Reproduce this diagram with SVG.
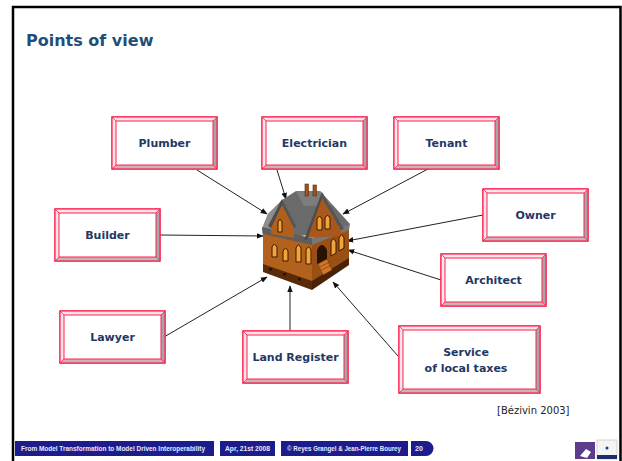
<svg xmlns="http://www.w3.org/2000/svg" xmlns:xlink="http://www.w3.org/1999/xlink" width="622" height="461" viewBox="0 0 622 461">
  <style>
    .frame { stroke: #000; stroke-width: 2.5; fill: none; }
    .title { font-family: "DejaVu Sans", Verdana, sans-serif; font-weight: bold; font-size: 16px; fill: #1f4e79; }
    .lbl { font-family: "DejaVu Sans", "Comic Sans MS", sans-serif; font-weight: bold; font-size: 11px; fill: #1f3864; text-anchor: middle; }
    .cite { font-family: "DejaVu Sans", Verdana, sans-serif; font-size: 10px; fill: #222; }
    .bar { fill: #1c1c8c; }
    .foot { font-family: "Liberation Sans", Arial, sans-serif; font-weight: bold; font-size: 7px; fill: #e8e8ff; }
    .edge { stroke: #222; stroke-width: 1; fill: none; marker-end: url(#arr); }
    .bv-out { fill: #fff; stroke: #ff1f4f; stroke-width: 1.2; }
    .bv-in { fill: #fff; stroke: #ff1f4f; stroke-width: 1; }
    .bv-tl { fill: #ffe4ea; }
    .bv-r { fill: #a6a6a6; }
    .bv-b { fill: #c9b3b7; }
    .bv-c { stroke: #ff1f4f; stroke-width: 0.8; }
    .win { fill: #f2a43a; stroke: #3a1800; stroke-width: 1; }
  </style>
  <defs>
    <marker id="arr" viewBox="0 0 10 10" refX="9" refY="5" markerWidth="7" markerHeight="7" orient="auto-start-reverse" markerUnits="userSpaceOnUse">
      <path d="M0,1 L10,5 L0,9 z" fill="#111"/>
    </marker>
    <!-- bevelled label plate, 105 x 52 -->
    <g id="plate">
      <rect class="bv-out" x="0" y="0" width="105" height="52"/>
      <polygon class="bv-tl" points="0,0 105,0 101,4 4,4"/>
      <polygon class="bv-tl" points="0,0 4,4 4,48 0,52"/>
      <polygon class="bv-r" points="105,0 105,52 101,48 101,4"/>
      <polygon class="bv-b" points="0,52 105,52 101,48 4,48"/>
      <rect x="0" y="0" width="105" height="52" fill="none" stroke="#ff1f4f" stroke-width="1.2"/>
      <rect class="bv-in" x="4" y="4" width="97" height="44"/>
      <line class="bv-c" x1="0" y1="0" x2="4" y2="4"/>
      <line class="bv-c" x1="105" y1="0" x2="101" y2="4"/>
      <line class="bv-c" x1="0" y1="52" x2="4" y2="48"/>
      <line class="bv-c" x1="105" y1="52" x2="101" y2="48"/>
    </g>
  </defs>

  <rect width="622" height="461" fill="#fff"/>
  <!-- slide frame -->
  <path class="frame" d="M13,461 V7 H620.5 V461"/>

  <text class="title" x="26" y="46">Points of view</text>

  <!-- connectors -->
  <g id="connectors">
    <line class="edge" x1="197" y1="170" x2="267" y2="214"/>
    <line class="edge" x1="277" y1="170" x2="286" y2="199"/>
    <line class="edge" x1="428" y1="169" x2="343" y2="214"/>
    <line class="edge" x1="483" y1="215" x2="347" y2="241"/>
    <line class="edge" x1="441" y1="280" x2="348" y2="250"/>
    <line class="edge" x1="160" y1="235" x2="263" y2="236"/>
    <line class="edge" x1="164" y1="337" x2="267" y2="277"/>
    <line class="edge" x1="290" y1="332" x2="290" y2="286"/>
    <line class="edge" x1="398" y1="356" x2="333" y2="282"/>
  </g>

  <!-- house -->
  <g id="house">
    <!-- main roof -->
    <polygon points="262,229 268,214 282,200 296,191 320,191 350,224 346,230 300,236 263,236" fill="#6b6b6b"/>
    <polygon points="262,229 268,214 280,203 284,214 270,232" fill="#8e8e8e"/>
    <polygon points="296,191 320,191 332,205 304,206" fill="#7d7d7d"/>
    <!-- chimneys -->
    <rect x="305" y="184" width="3.5" height="12" fill="#a4521a" stroke="#5a2a08" stroke-width="0.6"/>
    <rect x="313" y="185" width="3.5" height="11" fill="#a4521a" stroke="#5a2a08" stroke-width="0.6"/>
    <!-- walls -->
    <polygon points="263,233 312,244 312,288 263,270" fill="#b2621c"/>
    <polygon points="312,244 349,229 349,264 312,288" fill="#9a4f14"/>
    <!-- lower roof band -->
    <polygon points="262,227 312,238 312,245 263,234" fill="#5e5e5e"/>
    <polygon points="312,238 350,224 349,230 312,245" fill="#777"/>
    <!-- base -->
    <polygon points="263,264 312,281 312,290 263,272" fill="#5a2b08"/>
    <polygon points="312,281 349,258 349,265 312,290" fill="#4a2306"/>
    <rect x="269" y="268" width="3" height="2.5" fill="#2a1200"/>
    <rect x="283" y="273" width="3" height="2.5" fill="#2a1200"/>
    <rect x="298" y="278" width="3" height="2.5" fill="#2a1200"/>
    <!-- left dormer gable -->
    <polygon points="271,224 282,201 294,226 294,238 271,234" fill="#b0601c"/>
    <polygon points="282,199 268,226 271,228 282,205" fill="#4c4c4c"/>
    <polygon points="282,199 296,226 294,228 282,205" fill="#555"/>
    <path class="win" d="M278,232 V222 Q280,217 282,222 V232 Z"/>
    <!-- right gable -->
    <polygon points="306,238 322,194 341,228 341,236" fill="#a8581a"/>
    <polygon points="322,192 304,240 307,240 322,198" fill="#4c4c4c"/>
    <polygon points="322,192 344,229 341,230 322,198" fill="#555"/>
    <path class="win" d="M317,230 V219 Q319.5,214 322,219 V230 Z"/>
    <path class="win" d="M325,229 V218 Q327.5,213 330,218 V229 Z"/>
    <!-- ground floor windows -->
    <path class="win" d="M272,257 V247 Q274.5,242 277,247 V257 Z"/>
    <path class="win" d="M283,261 V251 Q285.5,246 288,251 V261 Z"/>
    <path class="win" d="M296,262 V248 Q298.5,242 301,248 V262 Z"/>
    <path class="win" d="M306,264 V250 Q308.5,244 311,250 V264 Z"/>
    <path d="M317,264 V250 Q322,240 327,250 V260 Z" fill="#2a1200"/>
    <path class="win" d="M331,256 V242 Q333.5,236 336,242 V253 Z"/>
    <path class="win" d="M339,251 V238 Q341.5,232 344,238 V248 Z"/>
    <!-- steps -->
    <polygon points="318,264 327,259 332,270 323,275" fill="#d07828" stroke="#6a3008" stroke-width="0.5"/>
    <line x1="320" y1="267" x2="329" y2="262" stroke="#6a3008" stroke-width="0.6"/>
    <line x1="321.5" y1="270" x2="330.5" y2="265.5" stroke="#6a3008" stroke-width="0.6"/>
  </g>

  <!-- viewpoint plates -->
  <g id="plumber"><use xlink:href="#plate" x="112" y="117"/><text class="lbl" x="164.5" y="147">Plumber</text></g>
  <g id="electrician"><use xlink:href="#plate" x="262" y="117"/><text class="lbl" x="314.5" y="147">Electrician</text></g>
  <g id="tenant"><use xlink:href="#plate" x="394" y="117"/><text class="lbl" x="446.5" y="147">Tenant</text></g>
  <g id="owner"><use xlink:href="#plate" x="483" y="189"/><text class="lbl" x="535.5" y="219">Owner</text></g>
  <g id="builder"><use xlink:href="#plate" x="55" y="209"/><text class="lbl" x="107.5" y="239">Builder</text></g>
  <g id="architect"><use xlink:href="#plate" x="441" y="254"/><text class="lbl" x="493.5" y="284">Architect</text></g>
  <g id="lawyer"><use xlink:href="#plate" x="60" y="311"/><text class="lbl" x="112.5" y="341">Lawyer</text></g>
  <g id="land-register"><use xlink:href="#plate" x="243" y="331"/><text class="lbl" x="295.5" y="361">Land Register</text></g>
  <g id="local-taxes">
    <rect class="bv-out" x="399" y="326" width="141" height="67"/>
    <polygon class="bv-tl" points="399,326 540,326 536,330 403,330"/>
    <polygon class="bv-tl" points="399,326 403,330 403,389 399,393"/>
    <polygon class="bv-r" points="540,326 540,393 536,389 536,330"/>
    <polygon class="bv-b" points="399,393 540,393 536,389 403,389"/>
    <rect x="399" y="326" width="141" height="67" fill="none" stroke="#ff1f4f" stroke-width="1.2"/>
    <rect class="bv-in" x="403" y="330" width="133" height="59"/>
    <line class="bv-c" x1="399" y1="326" x2="403" y2="330"/>
    <line class="bv-c" x1="540" y1="326" x2="536" y2="330"/>
    <line class="bv-c" x1="399" y1="393" x2="403" y2="389"/>
    <line class="bv-c" x1="540" y1="393" x2="536" y2="389"/>
    <text class="lbl" x="466" y="356">Service</text>
    <text class="lbl" x="466" y="372">of local taxes</text>
  </g>

  <text class="cite" x="497" y="414">[Bézivin 2003]</text>

  <!-- footer -->
  <g id="footer">
    <rect class="bar" x="15" y="441" width="199" height="15"/>
    <rect class="bar" x="220" y="441" width="55" height="15"/>
    <rect class="bar" x="281" y="441" width="127" height="15"/>
    <path class="bar" d="M411,441 H426 A7.5,7.5 0 0 1 426,456 H411 Z"/>
    <text class="foot" x="21" y="451" textLength="184" lengthAdjust="spacingAndGlyphs">From Model Transformation to Model Driven Interoperability</text>
    <text class="foot" x="225" y="451" textLength="45" lengthAdjust="spacingAndGlyphs">Apr, 21st 2008</text>
    <text class="foot" x="287" y="451" textLength="114" lengthAdjust="spacingAndGlyphs">© Reyes Grangel &amp; Jean-Pierre Bourey</text>
    <text class="foot" x="415" y="451">20</text>
    <!-- logos -->
    <rect x="575" y="442" width="20" height="17" fill="#5b3d8c"/>
    <path d="M580,456 L586,449 L591,452 L587,458 Z" fill="#fff"/>
    <rect x="597" y="440" width="20" height="19" fill="#f4f4f4" stroke="#bbb" stroke-width="0.6"/>
    <circle cx="607" cy="448" r="1.5" fill="#1c3c8c"/>
    <rect x="597" y="455" width="20" height="4" fill="#1c2c6c"/>
  </g>
</svg>
